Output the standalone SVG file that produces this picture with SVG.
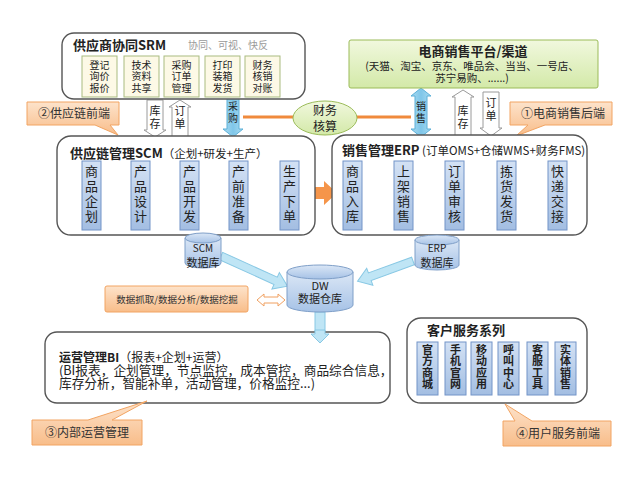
<svg xmlns="http://www.w3.org/2000/svg" width="640" height="481" viewBox="0 0 640 481">
<defs>
<linearGradient id="gOr" x1="0" y1="0" x2="0" y2="1"><stop offset="0" stop-color="#fde3cb"/><stop offset="1" stop-color="#f8bd8a"/></linearGradient>
<linearGradient id="gBl" x1="0" y1="0" x2="0" y2="1"><stop offset="0" stop-color="#d3e1f4"/><stop offset="1" stop-color="#a3bee2"/></linearGradient>
<linearGradient id="gGr" x1="0" y1="0" x2="0" y2="1"><stop offset="0" stop-color="#f1f8de"/><stop offset="1" stop-color="#d3e9a8"/></linearGradient>
<linearGradient id="gCy" x1="0" y1="0" x2="0" y2="1"><stop offset="0" stop-color="#dbe7f6"/><stop offset="1" stop-color="#a6c2e6"/></linearGradient>
<linearGradient id="gDa" x1="0" y1="0" x2="1" y2="0"><stop offset="0" stop-color="#a9dbf1"/><stop offset="0.5" stop-color="#7fc6e9"/><stop offset="1" stop-color="#a9dbf1"/></linearGradient>
<style>
text{font-family:"Noto Sans CJK SC","Noto Sans",sans-serif;fill:#222}
.box{fill:#fff;stroke:#555;stroke-width:1.4}
.beige{fill:#fdf9e6;stroke:#a9bb80;stroke-width:1}
.blue{fill:url(#gBl);stroke:#7394c8;stroke-width:1}
.call{fill:url(#gOr);stroke:#f2a462;stroke-width:1}
.parr{fill:#f5954a}
.warr{fill:#fff;stroke:#9a9a9a;stroke-width:1}
.darr{fill:url(#gDa);stroke:#5cb0d8;stroke-width:1}
.larr{fill:#bfe5f5;stroke:#88c8e4;stroke-width:1}
.cyl{fill:url(#gCy);stroke:#7f9fc8;stroke-width:1}
.t10{font-size:10px;text-anchor:middle}
.t11{font-size:11px;text-anchor:middle}
.t13{font-size:13px;text-anchor:middle}
.b{font-weight:bold}
.ct{font-size:12px;text-anchor:middle;fill:#333}
</style>
</defs>
<rect width="640" height="481" fill="#fff"/>

<g id="connectors">
<path class="warr" d="M147 100 H163 V130 H166 L155 137 L144 130 H147 Z"/>
<text class="t11" x="155" y="115">库<tspan x="155" dy="13">存</tspan></text>
<path class="warr" d="M172 137 V107 H169 L180 100 L191 107 H188 V137 Z"/>
<text class="t11" x="180" y="115">订<tspan x="180" dy="13">单</tspan></text>
<path class="darr" d="M233 87 L243 95 H239 V129 H243 L233 137 L223 129 H227 V95 H223 Z"/>
<text class="t10" x="233" y="110">采<tspan x="233" dy="12">购</tspan></text>
<line x1="243" y1="117" x2="293" y2="117" stroke="#f08a3c" stroke-width="3"/>
<line x1="357" y1="117" x2="411" y2="117" stroke="#f08a3c" stroke-width="3"/>
<path class="darr" d="M421 88 L431 96 H427 V129 H431 L421 137 L411 129 H415 V96 H411 Z"/>
<text class="t10" x="421" y="110">销<tspan x="421" dy="12">售</tspan></text>
<path class="warr" d="M455 137 V97 H452 L463 90 L474 97 H471 V137 Z"/>
<text class="t11" x="463" y="115">库<tspan x="463" dy="13">存</tspan></text>
<path class="warr" d="M483 92 H499 V128 H502 L491 136 L480 128 H483 Z"/>
<text class="t11" x="491" y="107">订<tspan x="491" dy="13">单</tspan></text>
<path class="parr" d="M106 187 H118 V183 L127 192 L118 201 V197 H106 Z"/>
<path class="parr" d="M155 187 H167 V183 L176 192 L167 201 V197 H155 Z"/>
<path class="parr" d="M204 187 H216 V183 L225 192 L216 201 V197 H204 Z"/>
<path class="parr" d="M254 187 H267 V183 L276 192 L267 201 V197 H254 Z"/>
<path class="parr" d="M306 187 H324 V181 L337 193 L324 205 V199 H306 Z"/>
<path class="parr" d="M367 187 H380 V183 L389 192 L380 201 V197 H367 Z"/>
<path class="parr" d="M418 187 H431 V183 L440 192 L431 201 V197 H418 Z"/>
<path class="parr" d="M469 187 H483 V183 L492 192 L483 201 V197 H469 Z"/>
<path class="parr" d="M521 187 H534 V183 L543 192 L534 201 V197 H521 Z"/>
<path class="larr" transform="translate(221,256) rotate(24.4)" d="M0 -4 H60 V-9 L73 0 L60 9 V4 H0 Z"/>
<path class="larr" transform="translate(413,261) rotate(160)" d="M0 -4 H46 V-9 L59 0 L46 9 V4 H0 Z"/>
<path d="M257 300 L264 294 V297 H278 V294 L285 300 L278 306 V303 H264 V306 Z" fill="#fff" stroke="#f0a060" stroke-width="1"/>
<path class="larr" d="M315 312 H325 V334 H329 L320 343 L311 334 H315 Z"/>
</g>

<g id="srm">
<rect class="box" x="62" y="33" width="243" height="66" rx="12"/>
<text x="73" y="50" font-size="13" font-weight="bold">供应商协同SRM</text>
<text x="188" y="49" font-size="10" style="fill:#9a9a9a">协同、可视、快反</text>
<rect class="beige" x="82" y="56" width="35" height="41"/>
<text class="t10" x="99.5" y="68.5">登记<tspan x="99.5" dy="11.5">询价</tspan><tspan x="99.5" dy="11.5">报价</tspan></text>
<rect class="beige" x="124" y="56" width="35" height="41"/>
<text class="t10" x="141.5" y="68.5">技术<tspan x="141.5" dy="11.5">资料</tspan><tspan x="141.5" dy="11.5">共享</tspan></text>
<rect class="beige" x="164" y="56" width="35" height="41"/>
<text class="t10" x="181.5" y="68.5">采购<tspan x="181.5" dy="11.5">订单</tspan><tspan x="181.5" dy="11.5">管理</tspan></text>
<rect class="beige" x="205" y="56" width="35" height="41"/>
<text class="t10" x="222.5" y="68.5">打印<tspan x="222.5" dy="11.5">装箱</tspan><tspan x="222.5" dy="11.5">发货</tspan></text>
<rect class="beige" x="245" y="56" width="35" height="41"/>
<text class="t10" x="262.5" y="68.5">财务<tspan x="262.5" dy="11.5">核销</tspan><tspan x="262.5" dy="11.5">对账</tspan></text>
</g>

<g id="platform">
<rect x="349" y="40" width="249" height="48" rx="2" fill="url(#gGr)" stroke="#9bbb59" stroke-width="1"/>
<text x="473" y="55.5" font-size="13" font-weight="bold" text-anchor="middle">电商销售平台/渠道</text>
<text x="472" y="70" font-size="10.5" text-anchor="middle">(天猫、淘宝、京东、唯品会、当当、一号店、<tspan x="472" dy="12">苏宁易购、......)</tspan></text>
</g>

<g id="finance">
<ellipse cx="325" cy="118" rx="32" ry="17" fill="url(#gGr)" stroke="#9bbb59" stroke-width="1"/>
<text x="325" y="115" font-size="12" text-anchor="middle">财务<tspan x="325" dy="16">核算</tspan></text>
</g>

<g id="callout-2">
<path class="call" d="M27 102 H119 V125 H110 L118 135 L95 125 H27 Z"/>
<text class="ct" x="74" y="117.5">②供应链前端</text>
</g>

<g id="callout-1">
<path class="call" d="M510 102 H612 V125 H545 L516 136 L528 125 H510 Z"/>
<text class="ct" x="563" y="117.5">①电商销售后端</text>
</g>

<g id="scm">
<rect class="box" x="57" y="136" width="258" height="99" rx="14"/>
<text x="70" y="157.5" font-size="13" font-weight="bold">供应链管理SCM<tspan font-weight="normal" font-size="11.5">（企划+研发+生产）</tspan></text>
<rect class="blue" x="82" y="161" width="19" height="69"/>
<text class="t13" x="91.5" y="176">商<tspan x="91.5" dy="15">品</tspan><tspan x="91.5" dy="15">企</tspan><tspan x="91.5" dy="15">划</tspan></text>
<rect class="blue" x="131" y="161" width="19" height="69"/>
<text class="t13" x="140.5" y="176">产<tspan x="140.5" dy="15">品</tspan><tspan x="140.5" dy="15">设</tspan><tspan x="140.5" dy="15">计</tspan></text>
<rect class="blue" x="180" y="161" width="19" height="69"/>
<text class="t13" x="189.5" y="176">产<tspan x="189.5" dy="15">品</tspan><tspan x="189.5" dy="15">开</tspan><tspan x="189.5" dy="15">发</tspan></text>
<rect class="blue" x="229" y="161" width="19" height="69"/>
<text class="t13" x="238.5" y="176">产<tspan x="238.5" dy="15">前</tspan><tspan x="238.5" dy="15">准</tspan><tspan x="238.5" dy="15">备</tspan></text>
<rect class="blue" x="280" y="161" width="19" height="69"/>
<text class="t13" x="289.5" y="176">生<tspan x="289.5" dy="15">产</tspan><tspan x="289.5" dy="15">下</tspan><tspan x="289.5" dy="15">单</tspan></text>
</g>

<g id="erp">
<rect class="box" x="332" y="135" width="255" height="100" rx="14"/>
<text x="342" y="154.5" font-size="13" font-weight="bold">销售管理ERP<tspan font-weight="normal" font-size="11.5"> (订单OMS+仓储WMS+财务FMS)</tspan></text>
<rect class="blue" x="343" y="161" width="19" height="69"/>
<text class="t13" x="352.5" y="176">商<tspan x="352.5" dy="15">品</tspan><tspan x="352.5" dy="15">入</tspan><tspan x="352.5" dy="15">库</tspan></text>
<rect class="blue" x="394" y="161" width="19" height="69"/>
<text class="t13" x="403.5" y="176">上<tspan x="403.5" dy="15">架</tspan><tspan x="403.5" dy="15">销</tspan><tspan x="403.5" dy="15">售</tspan></text>
<rect class="blue" x="445" y="161" width="19" height="69"/>
<text class="t13" x="454.5" y="176">订<tspan x="454.5" dy="15">单</tspan><tspan x="454.5" dy="15">审</tspan><tspan x="454.5" dy="15">核</tspan></text>
<rect class="blue" x="497" y="161" width="19" height="69"/>
<text class="t13" x="506.5" y="176">拣<tspan x="506.5" dy="15">货</tspan><tspan x="506.5" dy="15">发</tspan><tspan x="506.5" dy="15">货</tspan></text>
<rect class="blue" x="548" y="161" width="19" height="69"/>
<text class="t13" x="557.5" y="176">快<tspan x="557.5" dy="15">递</tspan><tspan x="557.5" dy="15">交</tspan><tspan x="557.5" dy="15">接</tspan></text>
</g>

<g id="scm-db">
<path class="cyl" d="M185 238 V263 A18 5 0 0 0 221 263 V238 Z"/>
<ellipse class="cyl" cx="203" cy="238" rx="18" ry="5"/>
<text x="203" y="252" font-size="10" text-anchor="middle">SCM<tspan x="203" dy="15" font-size="11">数据库</tspan></text>
</g>

<g id="erp-db">
<path class="cyl" d="M415 240 V265 A22 5 0 0 0 459 265 V240 Z"/>
<ellipse class="cyl" cx="437" cy="240" rx="22" ry="5"/>
<text x="437" y="252" font-size="10" text-anchor="middle">ERP<tspan x="437" dy="15" font-size="11">数据库</tspan></text>
</g>

<g id="dw">
<path class="cyl" d="M287 272 V305 A33 7 0 0 0 353 305 V272 Z"/>
<ellipse class="cyl" cx="320" cy="272" rx="33" ry="7"/>
<text class="t11" x="320" y="290">DW<tspan x="320" dy="13">数据仓库</tspan></text>
</g>

<g id="data-mining">
<rect class="call" x="105" y="286" width="143" height="26" rx="2"/>
<text x="177" y="302.5" font-size="9.5" text-anchor="middle" style="fill:#333">数据抓取/数据分析/数据挖掘</text>
</g>

<g id="bi">
<rect class="box" x="45" y="332" width="345" height="71" rx="12"/>
<path class="larr" d="M315 330 H325 V334 H329 L320 343 L311 334 H315 Z"/>
<text x="59" y="362" font-size="12"><tspan font-weight="bold">运营管理BI</tspan>（报表+企划+运营）<tspan x="59" dy="12.5" font-size="12.7">(BI报表，企划管理，节点监控，成本管控，商品综合信息，</tspan><tspan x="59" dy="13" font-size="12.7">库存分析，智能补单，活动管理，价格监控...)</tspan></text>
</g>

<g id="customer">
<rect class="box" x="407" y="318" width="180" height="85" rx="14"/>
<text x="427" y="335" font-size="13" font-weight="bold">客户服务系列</text>
<rect class="blue" x="417" y="342" width="21" height="53"/>
<text class="t11 b" x="427.5" y="353.5">官<tspan x="427.5" dy="11.5">方</tspan><tspan x="427.5" dy="11.5">商</tspan><tspan x="427.5" dy="11.5">城</tspan></text>
<rect class="blue" x="445" y="342" width="21" height="53"/>
<text class="t11 b" x="455.5" y="353.5">手<tspan x="455.5" dy="11.5">机</tspan><tspan x="455.5" dy="11.5">官</tspan><tspan x="455.5" dy="11.5">网</tspan></text>
<rect class="blue" x="471" y="342" width="21" height="53"/>
<text class="t11 b" x="481.5" y="353.5">移<tspan x="481.5" dy="11.5">动</tspan><tspan x="481.5" dy="11.5">应</tspan><tspan x="481.5" dy="11.5">用</tspan></text>
<rect class="blue" x="498" y="342" width="21" height="53"/>
<text class="t11 b" x="508.5" y="353.5">呼<tspan x="508.5" dy="11.5">叫</tspan><tspan x="508.5" dy="11.5">中</tspan><tspan x="508.5" dy="11.5">心</tspan></text>
<rect class="blue" x="527" y="342" width="21" height="53"/>
<text class="t11 b" x="537.5" y="353.5">客<tspan x="537.5" dy="11.5">服</tspan><tspan x="537.5" dy="11.5">工</tspan><tspan x="537.5" dy="11.5">具</tspan></text>
<rect class="blue" x="555" y="342" width="21" height="53"/>
<text class="t11 b" x="565.5" y="353.5">实<tspan x="565.5" dy="11.5">体</tspan><tspan x="565.5" dy="11.5">销</tspan><tspan x="565.5" dy="11.5">售</tspan></text>
</g>

<g id="callout-3">
<path class="call" d="M32 420 H88 L147 401 L112 420 H142 V445 H32 Z"/>
<text class="ct" x="87" y="437">③内部运营管理</text>
</g>

<g id="callout-4">
<path class="call" d="M503 421 H515 L505 404 L532 421 H611 V446 H503 Z"/>
<text class="ct" x="558" y="437.5">④用户服务前端</text>
</g>
</svg>
